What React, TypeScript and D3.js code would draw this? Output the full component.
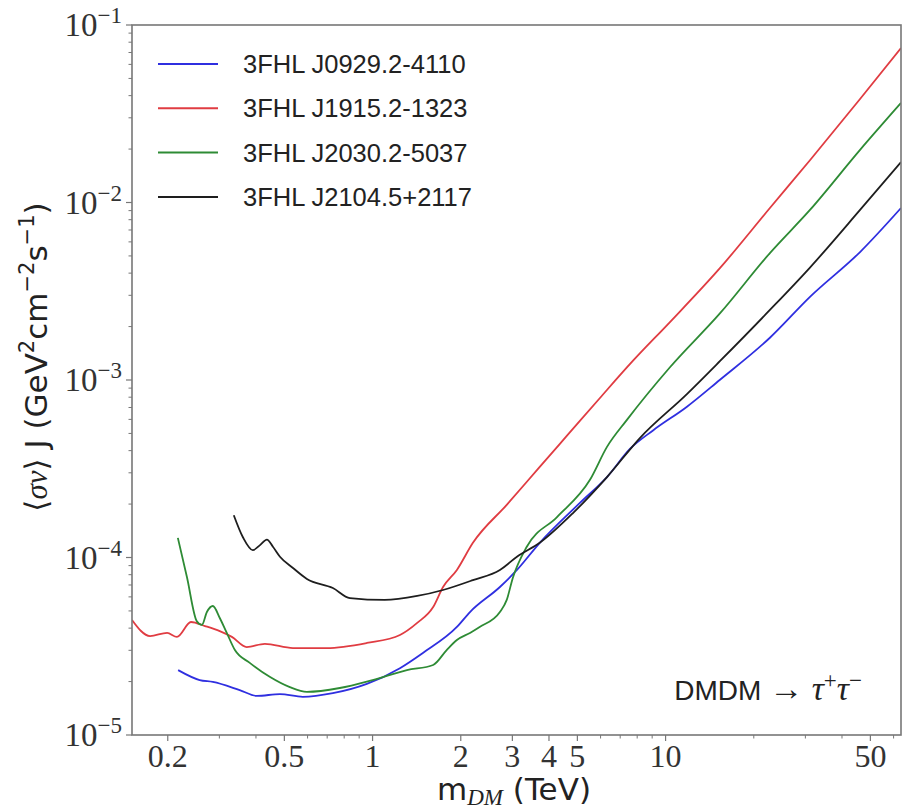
import React from "react";
import * as d3 from "d3";

// values (m_DM in TeV, <sigma v> J in GeV^2 cm^-2 s^-1)
const blueMass = [0.217, 0.257, 0.285, 0.352, 0.403, 0.483, 0.578, 0.732, 0.956, 1.24, 1.485, 1.94, 2.15, 2.72, 3.11, 3.72, 5.1, 6.31, 7.57, 9.06, 11.8, 15.3, 22.7, 31.1, 46.1, 63.6];
const blueVal = [2.32e-5, 2.04e-5, 1.99e-5, 1.79e-5, 1.66e-5, 1.7e-5, 1.64e-5, 1.72e-5, 1.94e-5, 2.38e-5, 2.9e-5, 4.06e-5, 4.93e-5, 6.82e-5, 8.51e-5, 1.21e-4, 2.03e-4, 2.84e-4, 4.1e-4, 5.2e-4, 7.05e-4, 1.0e-3, 1.73e-3, 2.94e-3, 5.26e-3, 9.31e-3];

const redMass = [0.151, 0.174, 0.199, 0.215, 0.24, 0.268, 0.301, 0.331, 0.372, 0.429, 0.535, 0.698, 0.956, 1.24, 1.42, 1.61, 1.74, 1.94, 2.2, 2.87, 3.72, 4.6, 5.97, 7.73, 10.35, 15.35, 22.7, 31.1, 46.1, 63.6];
const redVal = [4.45e-5, 3.61e-5, 3.76e-5, 3.57e-5, 4.33e-5, 4.11e-5, 3.85e-5, 3.57e-5, 3.13e-5, 3.26e-5, 3.09e-5, 3.09e-5, 3.3e-5, 3.66e-5, 4.28e-5, 5.26e-5, 6.82e-5, 8.51e-5, 1.21e-4, 1.98e-4, 3.24e-4, 4.84e-4, 7.92e-4, 1.28e-3, 2.12e-3, 4.28e-3, 9.31e-3, 1.73e-2, 3.83e-2, 7.41e-2];

const greenMass = [0.2165, 0.2325, 0.251, 0.2615, 0.272, 0.285, 0.301, 0.318, 0.339, 0.381, 0.447, 0.522, 0.597, 0.773, 1.0, 1.31, 1.61, 1.79, 1.94, 2.15, 2.32, 2.72, 2.87, 3.01, 3.36, 4.26, 5.52, 6.31, 7.38, 10.35, 15.35, 22.7, 31.1, 46.1, 63.6];
const greenVal = [1.29e-4, 7.76e-5, 4.39e-5, 4.17e-5, 4.93e-5, 5.33e-5, 4.56e-5, 3.76e-5, 3.01e-5, 2.55e-5, 2.12e-5, 1.86e-5, 1.75e-5, 1.84e-5, 2.04e-5, 2.32e-5, 2.48e-5, 3.01e-5, 3.43e-5, 3.76e-5, 4.06e-5, 4.93e-5, 5.77e-5, 7.67e-5, 1.15e-4, 1.69e-4, 2.74e-4, 4.2e-4, 5.96e-4, 1.18e-3, 2.38e-3, 5.19e-3, 9.08e-3, 1.98e-2, 3.64e-2];

const blackMass = [0.336, 0.361, 0.39, 0.412, 0.436, 0.457, 0.483, 0.535, 0.597, 0.732, 0.837, 1.1, 1.42, 1.74, 2.2, 2.72, 3.11, 3.72, 4.83, 6.31, 8.17, 11.8, 15.35, 22.7, 31.1, 46.1, 63.6];
const blackVal = [1.73e-4, 1.3e-4, 1.1e-4, 1.17e-4, 1.26e-4, 1.15e-4, 1.01e-4, 8.73e-5, 7.57e-5, 6.73e-5, 5.91e-5, 5.77e-5, 6.07e-5, 6.56e-5, 7.46e-5, 8.51e-5, 1.01e-4, 1.21e-4, 1.78e-4, 2.84e-4, 4.71e-4, 8.3e-4, 1.28e-3, 2.48e-3, 4.3e-3, 9.08e-3, 1.69e-2];

const seriesNames = ["3FHL J0929.2-4110", "3FHL J1915.2-1323", "3FHL J2030.2-5037", "3FHL J2104.5+2117"];
const seriesColors = ["#2f2fe0", "#e03c42", "#2e8b35", "#1e1e1e"];

const xTicks = [0.2, 0.5, 1, 2, 3, 4, 5, 10, 50];
const xTickLabels = ["0.2", "0.5", "1", "2", "3", "4", "5", "10", "50"];
const xMinorTicks = [0.3, 0.4, 0.6, 0.7, 0.8, 0.9, 6, 7, 8, 9, 20, 30, 40, 60];
const yExponents = [-1, -2, -3, -4, -5];

export default function App() {
  const width = 909;
  const height = 811;
  const plot = { left: 132, top: 25, right: 901, bottom: 735 };

  const x = d3.scaleLog().domain([0.151, 63.6]).range([plot.left, plot.right]);
  const y = d3.scaleLog().domain([1e-5, 1e-1]).range([plot.bottom, plot.top]);

  const series = [
    { m: blueMass, v: blueVal },
    { m: redMass, v: redVal },
    { m: greenMass, v: greenVal },
    { m: blackMass, v: blackVal },
  ];

  const line = d3
    .line<[number, number]>()
    .x((d) => x(d[0]))
    .y((d) => y(d[1]))
    .curve(d3.curveMonotoneX);

  // minor y ticks: 2..9 in each decade
  const yMinor: number[] = [];
  for (let e = -5; e < -1; e++) {
    for (let k = 2; k <= 9; k++) yMinor.push(k * 10 ** e);
  }

  const axisColor = "#777";
  const tickText = "#333";
  const serif = "'Liberation Serif', 'DejaVu Serif', serif";
  const sans = "'Liberation Sans', 'DejaVu Sans', sans-serif";
  const wideSans = "'DejaVu Sans', sans-serif";

  return (
    <svg
      width={width}
      height={height}
      style={{ position: "absolute", left: 0, top: 0, background: "#fff" }}
    >
      <defs>
        <clipPath id="plotClip">
          <rect x={plot.left} y={plot.top} width={plot.right - plot.left} height={plot.bottom - plot.top} />
        </clipPath>
      </defs>

      {/* curves */}
      <g clipPath="url(#plotClip)">
        {series.map((s, i) => (
          <path
            key={i}
            d={line(s.m.map((m, j) => [m, s.v[j]] as [number, number])) || ""}
            fill="none"
            stroke={seriesColors[i]}
            strokeWidth={1.8}
          />
        ))}
      </g>

      {/* frame */}
      <rect
        x={plot.left}
        y={plot.top}
        width={plot.right - plot.left}
        height={plot.bottom - plot.top}
        fill="none"
        stroke={axisColor}
        strokeWidth={1.6}
      />

      {/* x ticks */}
      {xTicks.map((t, i) => (
        <g key={"xt" + t}>
          <line x1={x(t)} x2={x(t)} y1={plot.bottom} y2={plot.bottom + 6} stroke={axisColor} strokeWidth={1.2} />
          <text x={x(t)} y={plot.bottom + 32} textAnchor="middle" fontFamily={serif} fontSize={32} fill={tickText}>
            {xTickLabels[i]}
          </text>
        </g>
      ))}
      {xMinorTicks.map((t) => (
        <line key={"xm" + t} x1={x(t)} x2={x(t)} y1={plot.bottom} y2={plot.bottom + 3.5} stroke={axisColor} strokeWidth={1} />
      ))}

      {/* y ticks */}
      {yExponents.map((e) => (
        <g key={"yt" + e}>
          <line x1={plot.left - 6} x2={plot.left} y1={y(10 ** e)} y2={y(10 ** e)} stroke={axisColor} strokeWidth={1.2} />
          <text x={plot.left - 10} y={y(10 ** e) + 11} textAnchor="end" fontFamily={serif} fontSize={33} fill={tickText}>
            <tspan>10</tspan>
            <tspan dy={-13} fontSize={23}>{"\u2212" + Math.abs(e)}</tspan>
          </text>
        </g>
      ))}
      {yMinor.map((v) => (
        <line key={"ym" + v} x1={plot.left - 3.5} x2={plot.left} y1={y(v)} y2={y(v)} stroke={axisColor} strokeWidth={1} />
      ))}

      {/* legend */}
      {seriesNames.map((name, i) => {
        const ly = 64 + i * 44.3;
        return (
          <g key={name}>
            <line x1={158} x2={218} y1={ly} y2={ly} stroke={seriesColors[i]} strokeWidth={2} />
            <text x={243} y={ly + 9} fontFamily={sans} fontSize={25.5} fill="#222">
              {name}
            </text>
          </g>
        );
      })}

      {/* annotation */}
      <text x={862} y={700} textAnchor="end" fontFamily={sans} fontSize={28} fill="#222">
        <tspan>DMDM </tspan>
        <tspan fontFamily={serif} fontSize={34}>{"\u2192 "}</tspan>
        <tspan fontFamily={serif} fontStyle="italic" fontSize={34}>τ</tspan>
        <tspan fontFamily={serif} fontSize={23} dy={-12}>+</tspan>
        <tspan fontFamily={serif} fontStyle="italic" fontSize={34} dy={12}>τ</tspan>
        <tspan fontFamily={serif} fontSize={23} dy={-12}>{"\u2212"}</tspan>
      </text>

      {/* x label */}
      <text x={514} y={800} textAnchor="middle" fontFamily={wideSans} fontSize={31} fill="#222">
        <tspan>m</tspan>
        <tspan fontFamily={serif} fontStyle="italic" fontSize={23} dy={5}>DM</tspan>
        <tspan dy={-5}>{" (TeV)"}</tspan>
      </text>

      {/* y label */}
      <text
        transform="translate(47,357) rotate(-90)"
        textAnchor="middle"
        fontFamily={wideSans}
        fontSize={31}
        fill="#222"
      >
        <tspan fontFamily={serif}>{"\u27E8"}</tspan>
        <tspan fontFamily={serif} fontStyle="italic">σv</tspan>
        <tspan fontFamily={serif}>{"\u27E9"}</tspan>
        <tspan>{" J (GeV"}</tspan>
        <tspan fontSize={21} dy={-13}>2</tspan>
        <tspan dy={13}>cm</tspan>
        <tspan fontSize={21} dy={-13}>{"\u22122"}</tspan>
        <tspan dy={13}>s</tspan>
        <tspan fontSize={21} dy={-13}>{"\u22121"}</tspan>
        <tspan dy={13}>)</tspan>
      </text>
    </svg>
  );
}
